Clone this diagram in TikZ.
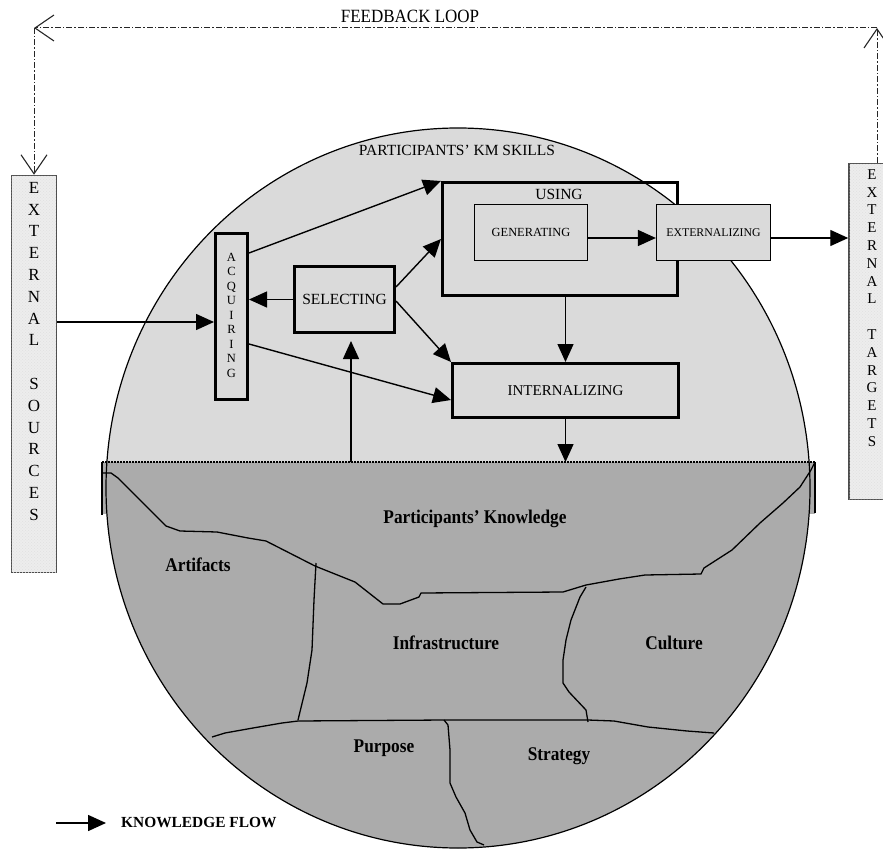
\documentclass[tikz,border=0pt]{standalone}
\usepackage{fontspec}
\setmainfont{Liberation Serif}
\usetikzlibrary{arrows.meta,patterns}
\definecolor{skillgray}{gray}{0.855}
\definecolor{basegray}{gray}{0.67}
\definecolor{sidegray}{gray}{0.93}
\newcommand{\tallbold}[1]{\scalebox{1}[1.12]{\bfseries #1}}
\begin{document}
\begin{tikzpicture}[x=1pt,y=-1pt,
  flow/.style={line width=1.4pt,-{Triangle[length=18pt,width=16pt]}},
  fbline/.style={line width=1pt,black!85,dash pattern=on 6pt off 2pt on 1.5pt off 2pt,
    -{Straight Barb[length=19pt,width=26pt,line width=1.1pt]}},
  thickbox/.style={draw,line width=3pt,fill=skillgray,inner sep=0pt},
  thinbox/.style={draw,line width=1.2pt,fill=skillgray,inner sep=0pt},
  sidebox/.style={draw=black!70,line width=1.5pt,fill=sidegray,
    postaction={pattern=crosshatch dots,pattern color=black!12}},
  boundary/.style={line width=1.3pt,line join=round},
  capsfont/.style={font=\fontsize{15.5}{18}\selectfont},
  regionlbl/.style={font=\fontsize{17.3}{20}\selectfont},
  letter/.style={inner sep=0pt,text height=0.66em,text depth=0pt,anchor=center}
]
\useasboundingbox (0,0) rectangle (883,850);

% the skills/knowledge sphere
\fill[skillgray] (458,488) ellipse [x radius=352pt,y radius=360pt];
\begin{scope}
  \clip (0,462) rectangle (883,850);
  \fill[basegray] (458,488) ellipse [x radius=352pt,y radius=360pt];
\end{scope}
\fill[basegray] (102,462) rectangle (815,514);
\draw[line width=1.2pt] (458,488) ellipse [x radius=352pt,y radius=360pt];
\draw[line width=1.1pt] (102,462) -- (102,515);
\draw[line width=1.1pt] (815,462) -- (815,513);
\draw[line width=1.8pt,dash pattern=on 1.6pt off 1.4pt] (102,462) -- (815,462);

% boundaries between the knowledge resources
\draw[boundary] (103,473) -- (111,473) -- (118,478) -- (135,495) -- (152,512) -- (166,526)
  -- (180,531) -- (217,532) -- (248,538) -- (266,541) -- (315,566) -- (355,582) -- (383,604)
  -- (400,604) -- (419,597) -- (421,593) -- (563,592) -- (586,585) -- (619,579) -- (645,575)
  -- (701,574) -- (704,568) -- (732,550) -- (760,523) -- (783,503) -- (800,487) -- (811,470)
  -- (815,462);
\draw[boundary] (316,563) -- (314,600) -- (312,650) -- (307,683) -- (298,720);
\draw[boundary] (586,587) -- (580,597) -- (571,620) -- (566,640) -- (563,660) -- (563,683)
  -- (569,692) -- (586,710) -- (588,722);
\draw[boundary] (212,737) -- (225,733) -- (253,728) -- (282,723) -- (298,721) -- (445,720)
  -- (588,720) -- (614,721) -- (648,727) -- (687,731) -- (714,733);
\draw[boundary] (444,720) -- (448,725) -- (450,750) -- (450,783) -- (456,797) -- (465,813)
  -- (470,830) -- (477,842) -- (484,845);

\node[regionlbl] (pk) at (475,519) {\tallbold{Participants' Knowledge}};
\node[regionlbl] (art) at (198,565) {\tallbold{Artifacts}};
\node[regionlbl] (infra) at (446,643) {\tallbold{Infrastructure}};
\node[regionlbl] (cult) at (674,643) {\tallbold{Culture}};
\node[regionlbl] (purp) at (384,748) {\tallbold{Purpose}};
\node[regionlbl] (strat) at (559,756) {\tallbold{Strategy}};

% KM skills
\node[capsfont] (skills) at (457,150) {PARTICIPANTS' KM SKILLS};
\node[thickbox,minimum width=32pt,minimum height=166pt] (acq) at (231.5,316.5) {};
\foreach \ch/\k in {A/0,C/1,Q/2,U/3,I/4,R/5,I/6,N/7,G/8}
  \node[letter,font=\fontsize{12.5}{14}\selectfont] (acq\k) at (231.5,{258+14.5*\k}) {\ch};
\node[thickbox,capsfont,minimum width=100pt,minimum height=66pt] (sel) at (344.5,299.5) {SELECTING};
\node[draw,line width=3pt,inner sep=0pt,minimum width=235pt,minimum height=113pt] (using) at (560,239) {};
\node[capsfont] (usinglbl) at (559,194) {USING};
\node[thinbox,font=\fontsize{12.4}{14}\selectfont,minimum width=113pt,minimum height=56pt] (gen) at (531,232.5) {GENERATING};
\node[thinbox,font=\fontsize{11.8}{14}\selectfont,minimum width=114pt,minimum height=56pt] (ext) at (713.5,232.5) {EXTERNALIZING};
\node[thickbox,font=\fontsize{15}{18}\selectfont,minimum width=226pt,minimum height=54pt] (intl) at (565.5,390.5) {INTERNALIZING};

% external sources and targets
\node[sidebox,minimum width=45pt,minimum height=397pt] (src) at (34,374) {};
\foreach \ch/\k in {E/0,X/1,T/2,E/3,R/4,N/5,A/6,L/7,S/9,O/10,U/11,R/12,C/13,E/14,S/15}
  \node[letter,font=\fontsize{17}{19}\selectfont] (src\k) at (34,{190+21.8*\k}) {\ch};
\node[sidebox,minimum width=45pt,minimum height=336pt] (tgt) at (871.5,331.5) {};
\foreach \ch/\k in {E/0,X/1,T/2,E/3,R/4,N/5,A/6,L/7,T/9,A/10,R/11,G/12,E/13,T/14,S/15}
  \node[letter,font=\fontsize{15}{17}\selectfont] (tgt\k) at (872,{176+17.8*\k}) {\ch};

% knowledge flows
\coordinate (baseA) at (351,462);
\coordinate (baseB) at (565.5,462);
\draw[flow] (src.east |- 0,322) -- (acq.west |- 0,322);
\draw[flow] (sel.west) -- (acq.east |- sel.west);
\draw[flow] (acq.east |- 0,253) -- (using.north west);
\draw[flow] (sel.east |- 0,287) -- (using.west);
\draw[flow] (sel.east |- 0,301) -- (intl.north west);
\draw[flow] (acq.east |- 0,344) -- (intl.west |- 0,400);
\draw[flow] (intl.north |- using.south) -- (intl.north);
\draw[flow] (intl.south) -- (baseB);
\draw[flow,shorten >=7pt] (baseA) -- (sel.south -| baseA);
\draw[flow] (gen.east |- 0,238) -- (ext.west |- 0,238);
\draw[flow] (ext.east |- 0,238) -- (tgt.west |- 0,238);

% feedback loop
\coordinate (fbl) at (34,28);
\coordinate (fbr) at (877,28);
\node[font=\fontsize{17}{20}\selectfont] (fbtitle) at (410,16) {\scalebox{1}[1.1]{FEEDBACK LOOP}};
\draw[fbline] (tgt.north -| fbr) -- (fbr);
\draw[fbline] (fbr) -- (fbl);
\draw[fbline] (fbl) -- (src.north);

% legend
\node[font=\bfseries\fontsize{15.4}{18}\selectfont,anchor=west,inner sep=0pt] (legtxt) at (121,823) {KNOWLEDGE FLOW};
\coordinate (legstart) at (56,823);
\draw[flow,line width=1.6pt] (legstart) -- ([xshift=-15pt]legtxt.west);
\end{tikzpicture}
\end{document}
